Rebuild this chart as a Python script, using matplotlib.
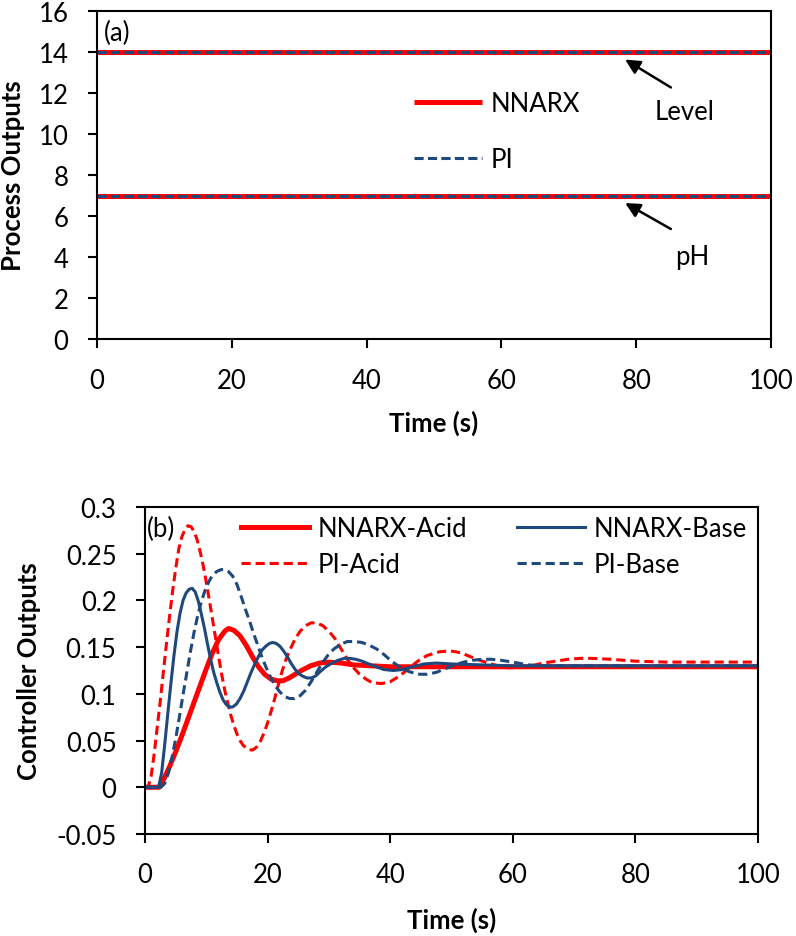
import matplotlib.pyplot as plt
import numpy as np

plt.rcParams['font.family'] = ['Lato', 'DejaVu Sans']

RED = '#FF0000'
BLUE = '#1F497D'
FS = 18.5

# ---- (a) process outputs: constant set points ----
t_a = [0, 100]
level_nnarx = [14, 14]
level_pi = [14, 14]
ph_nnarx = [7, 7]
ph_pi = [7, 7]

# ---- (b) controller outputs ----
t_nn_acid = [0, 2.3, 3.0, 4.0, 5.0, 6.0, 7.0, 8.0, 9.0, 10.0, 11.0, 12.0, 13.0, 13.6,
             14.5, 15.5, 16.5, 17.5, 18.5, 19.5, 20.5, 21.5, 22.5, 23.5, 24.5, 25.5,
             27, 28.5, 30, 32, 34, 37, 40, 45, 100]
nn_acid = [0, 0, 0.008, 0.022, 0.038, 0.055, 0.073, 0.091, 0.109, 0.127, 0.144, 0.158,
           0.167, 0.170, 0.168, 0.162, 0.152, 0.140, 0.129, 0.121, 0.116, 0.114, 0.114,
           0.117, 0.121, 0.125, 0.130, 0.133, 0.134, 0.133, 0.131, 0.130, 0.129, 0.129,
           0.129]

t_pi_acid = [0, 0.5, 1.0, 1.5, 2.0, 2.5, 3.0, 3.5, 4.0, 4.5, 5.0, 5.5, 6.0, 6.5, 7.0,
             7.5, 8.0, 8.5, 9.0, 9.5, 10, 10.5, 11, 11.5, 12, 12.5, 13, 13.5, 14, 14.5,
             15, 15.5, 16, 16.5, 17, 17.6, 18.2, 18.8, 19.4, 20, 20.6, 21.2, 21.8, 22.4,
             23, 23.7, 24.5, 25.3, 26.2, 27.1, 28.0, 29, 30, 31, 32, 33, 34, 35, 36, 37,
             38.6, 40, 41.5, 43, 44.5, 46, 48, 49.8, 51.5, 53, 55, 57, 59, 61, 63, 65,
             67, 69, 71, 73, 76, 80, 85, 90, 95, 100]
pi_acid = [0, 0, 0.012, 0.036, 0.065, 0.093, 0.124, 0.154, 0.183, 0.210, 0.234, 0.255,
           0.268, 0.276, 0.280, 0.279, 0.274, 0.265, 0.252, 0.237, 0.219, 0.200, 0.180,
           0.160, 0.140, 0.121, 0.104, 0.090, 0.077, 0.066, 0.057, 0.050, 0.045, 0.042,
           0.040, 0.040, 0.043, 0.049, 0.058, 0.069, 0.082, 0.096, 0.111, 0.125, 0.137,
           0.148, 0.159, 0.167, 0.173, 0.176, 0.176, 0.173, 0.167, 0.159, 0.148, 0.137,
           0.128, 0.121, 0.116, 0.112, 0.111, 0.113, 0.119, 0.127, 0.135, 0.141, 0.145,
           0.146, 0.144, 0.140, 0.135, 0.131, 0.128, 0.128, 0.130, 0.133, 0.135, 0.137,
           0.138, 0.138, 0.137, 0.135, 0.134, 0.134, 0.134, 0.134]

t_nn_base = [0, 2.2, 2.7, 3.2, 3.7, 4.2, 4.7, 5.2, 5.7, 6.2, 6.7, 7.2, 7.7, 8.2, 8.7,
             9.2, 9.7, 10.2, 10.7, 11.2, 11.7, 12.2, 12.7, 13.2, 13.7, 14.3, 14.9, 15.5,
             16.1, 16.7, 17.3, 17.9, 18.5, 19.1, 19.7, 20.3, 20.8, 21.4, 22.0, 22.6, 23.2,
             23.8, 24.4, 25.0, 25.7, 26.4, 27.1, 27.8, 28.6, 29.5, 30.5, 31.5, 32.5, 33.4,
             34.4, 35.4, 36.5, 37.7, 39, 40.5, 42, 43.7, 45.5, 47.5, 50, 55, 60, 100]
nn_base = [0, 0, 0.015, 0.045, 0.078, 0.110, 0.140, 0.166, 0.186, 0.200, 0.208, 0.212,
           0.213, 0.209, 0.199, 0.185, 0.170, 0.153, 0.137, 0.123, 0.112, 0.102, 0.094,
           0.089, 0.086, 0.086, 0.089, 0.095, 0.103, 0.113, 0.123, 0.132, 0.140, 0.147,
           0.151, 0.154, 0.155, 0.154, 0.151, 0.146, 0.140, 0.133, 0.127, 0.122, 0.119,
           0.117, 0.117, 0.119, 0.124, 0.129, 0.133, 0.136, 0.138, 0.138, 0.137, 0.135,
           0.132, 0.129, 0.126, 0.125, 0.126, 0.129, 0.132, 0.133, 0.132, 0.131, 0.130,
           0.130]

t_pi_base = [0, 2.6, 3.2, 3.8, 4.4, 5.0, 5.6, 6.2, 6.8, 7.4, 8.0, 8.6, 9.2, 9.8, 10.4,
             11.0, 11.7, 12.4, 13.0, 13.6, 14.3, 15.0, 15.7, 16.4, 17.1, 17.8, 18.5,
             19.2, 19.9, 20.6, 21.3, 22.0, 22.8, 23.6, 24.4, 25.3, 26.2, 27.1, 28.0,
             28.9, 29.8, 30.8, 31.9, 33.0, 34.2, 35.4, 36.6, 37.8, 39.0, 40.2, 41.5,
             43.0, 44.5, 46.0, 47.5, 49.0, 50.5, 52.0, 53.5, 55.0, 56.5, 58.0, 60, 62.5,
             65, 70, 80, 90, 100]
pi_base = [0, 0, 0.004, 0.015, 0.032, 0.052, 0.075, 0.099, 0.122, 0.145, 0.166, 0.184,
           0.199, 0.211, 0.220, 0.227, 0.231, 0.233, 0.233, 0.231, 0.226, 0.217, 0.204,
           0.190, 0.177, 0.163, 0.150, 0.137, 0.126, 0.116, 0.108, 0.102, 0.097, 0.095,
           0.095, 0.098, 0.104, 0.113, 0.123, 0.133, 0.141, 0.148, 0.153, 0.156, 0.156,
           0.155, 0.152, 0.148, 0.142, 0.135, 0.129, 0.124, 0.121, 0.121, 0.123, 0.127,
           0.131, 0.134, 0.136, 0.137, 0.137, 0.136, 0.134, 0.131, 0.130, 0.130, 0.130,
           0.130, 0.130]

b_ticks = [-0.05, 0, 0.05, 0.1, 0.15, 0.2, 0.25, 0.3]
b_labels = ['-0.05', '0', '0.05', '0.1', '0.15', '0.2', '0.25', '0.3']

fig = plt.figure(figsize=(7.96, 9.37), dpi=100)
ax1 = fig.add_axes([0.1219, 0.6371, 0.8467, 0.3501])
ax2 = fig.add_axes([0.1822, 0.1089, 0.7701, 0.3489])


def style(ax):
    for s in ax.spines.values():
        s.set_linewidth(1.5)
    ax.tick_params(direction='out', length=6.5, width=1.5, labelsize=FS, pad=14)


# (a)
ax1.plot(t_a, level_nnarx, color=RED, lw=3.6, solid_capstyle='butt', label='NNARX')
ax1.plot(t_a, level_pi, color=BLUE, lw=2.2, dashes=(3, 1.4), label='PI')
ax1.plot(t_a, ph_nnarx, color=RED, lw=3.6, solid_capstyle='butt')
ax1.plot(t_a, ph_pi, color=BLUE, lw=2.2, dashes=(3, 1.4))
ax1.set_xlim(0, 100)
ax1.set_ylim(0, 16)
ax1.set_xticks(np.arange(0, 101, 20))
ax1.set_yticks(np.arange(0, 17, 2))
style(ax1)
ax1.set_xlabel('Time (s)', fontsize=FS, fontweight='bold')
ax1.set_ylabel('Process Outputs', fontsize=FS, fontweight='bold')
ax1.xaxis.set_label_coords(0.5, -0.216)
ax1.yaxis.set_label_coords(-0.107, 0.5)
ax1.text(0.01, 0.936, '(a)', transform=ax1.transAxes, fontsize=FS, va='center')
ax1.legend(loc='upper left', bbox_to_anchor=(0.47, 0.756), frameon=False,
           fontsize=FS, handlelength=2.65, handletextpad=0.33, labelspacing=1.22,
           borderpad=0, borderaxespad=0)
arrow = dict(arrowstyle='-|>', color='black', lw=1.8, mutation_scale=22)
ax1.annotate('', xy=(78.0, 13.7), xytext=(85.5, 12.2), arrowprops=arrow)
ax1.annotate('', xy=(78.0, 6.7), xytext=(85.5, 5.3), arrowprops=arrow)
ax1.text(87.2, 11.1, 'Level', fontsize=FS, ha='center', va='center')
ax1.text(88.3, 4.05, 'pH', fontsize=FS, ha='center', va='center')

# (b)
l1, = ax2.plot(t_nn_acid, nn_acid, color=RED, lw=3.6, label='NNARX-Acid')
l2, = ax2.plot(t_pi_acid, pi_acid, color=RED, lw=2.2, dashes=(3, 1.6), label='PI-Acid')
l3, = ax2.plot(t_nn_base, nn_base, color=BLUE, lw=2.2, label='NNARX-Base')
l4, = ax2.plot(t_pi_base, pi_base, color=BLUE, lw=2.2, dashes=(3, 1.6), label='PI-Base')
ax2.set_xlim(0, 100)
ax2.set_ylim(-0.05, 0.3)
ax2.set_xticks(np.arange(0, 101, 20))
ax2.set_yticks(b_ticks)
ax2.set_yticklabels(b_labels)
style(ax2)
ax2.set_xlabel('Time (s)', fontsize=FS, fontweight='bold')
ax2.set_ylabel('Controller Outputs', fontsize=FS, fontweight='bold')
ax2.xaxis.set_label_coords(0.5, -0.223)
ax2.yaxis.set_label_coords(-0.170, 0.5)
ax2.text(0.003, 0.933, '(b)', transform=ax2.transAxes, fontsize=FS, va='center')

leg_kw = dict(loc='upper left', frameon=False, fontsize=FS, handlelength=2.65,
              handletextpad=0.31, labelspacing=0.42, borderpad=0, borderaxespad=0)
leg_a = ax2.legend(handles=[l1, l2], bbox_to_anchor=(0.157, 0.972), **leg_kw)
ax2.add_artist(leg_a)
ax2.legend(handles=[l3, l4], bbox_to_anchor=(0.607, 0.972), **leg_kw)

fig.savefig('out.png', dpi=100)
